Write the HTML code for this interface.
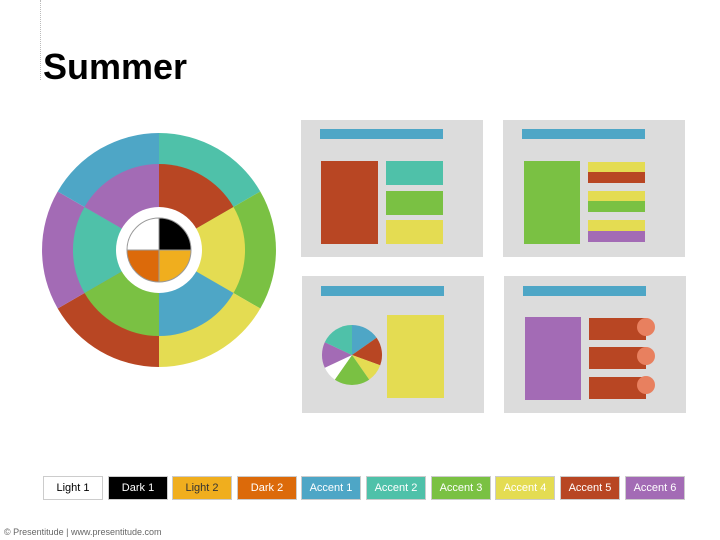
<!DOCTYPE html>
<html><head><style>
body{margin:0;width:720px;height:540px;background:#fff;position:relative;overflow:hidden;font-family:"Liberation Sans",sans-serif}
.t{position:absolute;left:43px;top:46px;font-size:36px;font-weight:bold;color:#000}
.lg{position:absolute;top:476px;height:22px;width:58px;font-size:11px;line-height:22px;text-align:center;color:#fff;border:1px solid #ccc;box-sizing:content-box}
.ft{position:absolute;left:4px;top:527px;font-size:9px;color:#666}
</style></head><body>
<div style="position:absolute;left:40px;top:0;height:80px;border-left:1px dotted #bbb"></div>
<div class="t">Summer</div>
<svg width="720" height="540" style="position:absolute;left:0;top:0">
<g transform="translate(159,250)">
<path d="M0,0 L0,-117 A117,117 0 0 1 101.3,-58.5Z" fill="#4fc1a9"/>
<path d="M0,0 L101.3,-58.5 A117,117 0 0 1 101.3,58.5Z" fill="#7ac143"/>
<path d="M0,0 L101.3,58.5 A117,117 0 0 1 0,117Z" fill="#e4dc52"/>
<path d="M0,0 L0,117 A117,117 0 0 1 -101.3,58.5Z" fill="#b84623"/>
<path d="M0,0 L-101.3,58.5 A117,117 0 0 1 -101.3,-58.5Z" fill="#a36bb5"/>
<path d="M0,0 L-101.3,-58.5 A117,117 0 0 1 0,-117Z" fill="#4ea6c6"/>
<path d="M0,0 L0,-86 A86,86 0 0 1 74.5,-43Z" fill="#b84623"/>
<path d="M0,0 L74.5,-43 A86,86 0 0 1 74.5,43Z" fill="#e4dc52"/>
<path d="M0,0 L74.5,43 A86,86 0 0 1 0,86Z" fill="#4ea6c6"/>
<path d="M0,0 L0,86 A86,86 0 0 1 -74.5,43Z" fill="#7ac143"/>
<path d="M0,0 L-74.5,43 A86,86 0 0 1 -74.5,-43Z" fill="#4fc1a9"/>
<path d="M0,0 L-74.5,-43 A86,86 0 0 1 0,-86Z" fill="#a36bb5"/>
<circle r="43" fill="#fff"/>
<path d="M0,0 L-32,0 A32,32 0 0 1 0,-32Z" fill="#fff" stroke="#999" stroke-width="1"/>
<path d="M0,0 L0,-32 A32,32 0 0 1 32,0Z" fill="#000" stroke="#999" stroke-width="1"/>
<path d="M0,0 L32,0 A32,32 0 0 1 0,32Z" fill="#f0ae1e" stroke="#999" stroke-width="1"/>
<path d="M0,0 L0,32 A32,32 0 0 1 -32,0Z" fill="#dc6a0a" stroke="#999" stroke-width="1"/>
</g>
<rect x="301" y="120" width="182" height="137" fill="#dcdcdc"/>
<rect x="320" y="129" width="123" height="10" fill="#4ea6c6"/>
<rect x="321" y="161" width="57" height="83" fill="#b84623"/>
<rect x="386" y="161" width="57" height="24" fill="#4fc1a9"/>
<rect x="386" y="191" width="57" height="24" fill="#7ac143"/>
<rect x="386" y="220" width="57" height="24" fill="#e4dc52"/>
<rect x="503" y="120" width="182" height="137" fill="#dcdcdc"/>
<rect x="522" y="129" width="123" height="10" fill="#4ea6c6"/>
<rect x="524" y="161" width="56" height="83" fill="#7ac143"/>
<rect x="588" y="162" width="57" height="10" fill="#e4dc52"/>
<rect x="588" y="172" width="57" height="11" fill="#b84623"/>
<rect x="588" y="191" width="57" height="10" fill="#e4dc52"/>
<rect x="588" y="201" width="57" height="11" fill="#7ac143"/>
<rect x="588" y="220" width="57" height="11" fill="#e4dc52"/>
<rect x="588" y="231" width="57" height="11" fill="#a36bb5"/>
<rect x="302" y="276" width="182" height="137" fill="#dcdcdc"/>
<rect x="321" y="286" width="123" height="10" fill="#4ea6c6"/>
<rect x="387" y="315" width="57" height="83" fill="#e4dc52"/>
<g transform="translate(352,355)">
<path d="M0,0 L0,-30 A30,30 0 0 1 24.6,-17.2Z" fill="#4ea6c6"/>
<path d="M0,0 L24.6,-17.2 A30,30 0 0 1 28.2,10.3Z" fill="#b84623"/>
<path d="M0,0 L28.2,10.3 A30,30 0 0 1 17.2,24.6Z" fill="#e4dc52"/>
<path d="M0,0 L17.2,24.6 A30,30 0 0 1 -17.2,24.6Z" fill="#7ac143"/>
<path d="M0,0 L-17.2,24.6 A30,30 0 0 1 -27.2,12.7Z" fill="#fff"/>
<path d="M0,0 L-27.2,12.7 A30,30 0 0 1 -27.2,-12.7Z" fill="#a36bb5"/>
<path d="M0,0 L-27.2,-12.7 A30,30 0 0 1 0,-30Z" fill="#4fc1a9"/>
</g>
<rect x="504" y="276" width="182" height="137" fill="#dcdcdc"/>
<rect x="523" y="286" width="123" height="10" fill="#4ea6c6"/>
<rect x="525" y="317" width="56" height="83" fill="#a36bb5"/>
<rect x="589" y="318" width="57" height="22" fill="#b84623"/>
<rect x="589" y="347" width="57" height="22" fill="#b84623"/>
<rect x="589" y="377" width="57" height="22" fill="#b84623"/>
<circle cx="646" cy="327" r="9" fill="#e8805f"/>
<circle cx="646" cy="356" r="9" fill="#e8805f"/>
<circle cx="646" cy="385" r="9" fill="#e8805f"/>
</svg>
<div class="lg" style="left:43px;background:#fff;color:#000">Light 1</div>
<div class="lg" style="left:108px;background:#000">Dark 1</div>
<div class="lg" style="left:172px;background:#f0ae1e;color:#333">Light 2</div>
<div class="lg" style="left:237px;background:#dc6a0a">Dark 2</div>
<div class="lg" style="left:301px;background:#4ea6c6">Accent 1</div>
<div class="lg" style="left:366px;background:#4fc1a9">Accent 2</div>
<div class="lg" style="left:431px;background:#7ac143">Accent 3</div>
<div class="lg" style="left:495px;background:#e4dc52">Accent 4</div>
<div class="lg" style="left:560px;background:#b84623">Accent 5</div>
<div class="lg" style="left:625px;background:#a36bb5">Accent 6</div>
<div class="ft">© Presentitude | www.presentitude.com</div>
</body></html>
